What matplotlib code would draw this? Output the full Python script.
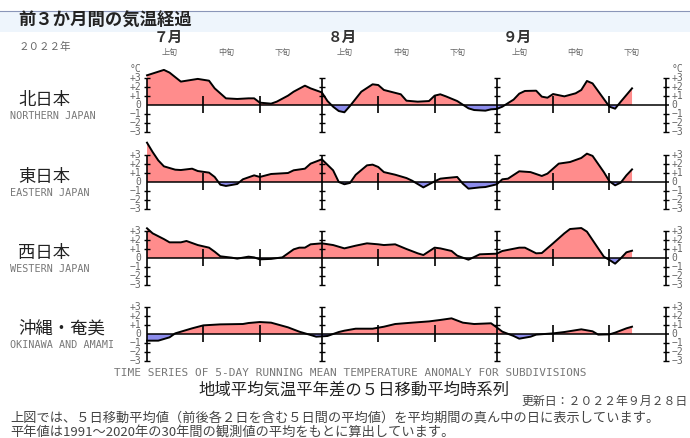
import matplotlib
matplotlib.use("Agg")
import matplotlib.pyplot as plt
import numpy as np

plt.rcParams['font.family'] = ['Noto Sans CJK JP', 'DejaVu Sans']

# day index from 1 July 2022 (0) ; 86 = 25 Sep
north_days = [0, 1, 3, 4, 6, 8, 9, 11, 12, 14, 16, 18, 19, 20, 22, 23, 25, 26, 28, 29,
              31, 32, 33, 34, 35, 36, 38, 40, 41, 42, 45, 46, 48, 50, 51, 52, 53, 55, 57,
              58, 60, 61, 62, 63, 65, 66, 67, 69, 70, 71, 72, 74, 76, 77, 78, 79, 81, 82,
              83, 84, 86]
north_vals = [3.3, 3.5, 3.9, 3.6, 2.6, 2.8, 2.9, 2.7, 1.85, 0.74, 0.67, 0.74, 0.74, 0.26,
              0.15, 0.37, 1.04, 1.48, 2.15, 1.85, 1.4, 0.44, -0.19, -0.67, -0.81, -0.1,
              1.48, 2.3, 2.22, 1.67, 1.19, 0.48, 0.37, 0.44, 1.04, 1.19, 0.96, 0.44, -0.37,
              -0.56, -0.63, -0.48, -0.44, -0.19, 0.6, 1.26, 1.56, 1.59, 0.93, 0.81, 1.22,
              0.96, 1.3, 1.67, 2.67, 2.4, 0.67, -0.19, -0.41, 0.37, 1.85]

east_days = [0, 1, 2, 3, 5, 6, 8, 9, 11, 12, 13, 14, 16, 17, 19, 20, 22, 25, 26, 28, 29,
             31, 33, 34, 35, 36, 37, 39, 40, 41, 42, 44, 46, 47, 49, 51, 52, 53, 55, 56,
             57, 59, 60, 62, 63, 64, 66, 68, 70, 71, 73, 75, 77, 78, 79, 81, 82, 83, 84,
             85, 86]
east_vals = [4.37, 3.33, 2.4, 1.74, 1.37, 1.33, 1.48, 1.22, 1.04, 0.56, -0.3, -0.44, -0.22,
             0.3, 0.74, 0.56, 0.89, 1.0, 1.3, 1.48, 2.04, 2.52, 1.3, 0.0, -0.25, -0.1, 0.8,
             1.85, 1.93, 1.67, 1.1, 0.81, 0.44, 0.15, -0.6, 0.07, 0.37, 0.44, 0.56, -0.19,
             -0.74, -0.6, -0.56, -0.26, 0.3, 0.37, 1.19, 1.1, 0.67, 0.93, 2.04, 2.22, 2.67,
             3.15, 2.9, 1.1, 0.07, -0.37, -0.07, 0.74, 1.4]

west_days = [0, 1, 3, 4, 6, 7, 9, 11, 12, 13, 15, 16, 18, 19, 20, 22, 24, 26, 27, 28, 29,
             31, 33, 35, 37, 39, 41, 42, 44, 46, 48, 49, 51, 52, 54, 55, 57, 58, 59, 62,
             63, 66, 67, 69, 70, 72, 74, 75, 77, 78, 80, 81, 82, 83, 84, 85, 86]
west_vals = [3.3, 2.74, 2.1, 1.74, 1.74, 1.89, 1.44, 1.15, 0.7, 0.19, 0.04, -0.07, 0.15,
             0.07, -0.15, -0.1, 0.07, 0.96, 1.15, 1.15, 1.52, 1.63, 1.44, 1.07, 1.37, 1.63,
             1.52, 1.44, 1.52, 1.0, 0.52, 0.33, 1.15, 1.07, 0.78, 0.26, -0.19, 0.11, 0.41,
             0.48, 0.78, 1.15, 1.15, 0.52, 0.55, 1.63, 2.74, 3.22, 3.33, 2.93, 1.07, 0.15,
             -0.22, -0.63, -0.04, 0.63, 0.81]

oki_days = [0, 2, 4, 5, 8, 10, 13, 17, 18, 20, 22, 25, 27, 29, 30, 32, 34, 35, 37, 40,
            42, 44, 47, 50, 52, 54, 56, 58, 61, 62, 63, 65, 66, 68, 69, 72, 74, 77, 79,
            80, 82, 83, 85, 86]
oki_vals = [-0.74, -0.74, -0.37, 0.07, 0.63, 0.96, 1.07, 1.11, 1.22, 1.33, 1.26, 0.74,
            0.26, -0.11, -0.3, -0.22, 0.22, 0.37, 0.59, 0.59, 0.81, 1.11, 1.26, 1.4, 1.56,
            1.74, 1.26, 1.11, 1.19, 0.74, 0.26, -0.22, -0.52, -0.3, -0.07, 0.07, 0.22,
            0.52, 0.3, -0.07, -0.04, 0.15, 0.63, 0.81]

regions = [
    ("北日本", "NORTHERN JAPAN", north_days, north_vals, 105),
    ("東日本", "EASTERN JAPAN", east_days, east_vals, 182),
    ("西日本", "WESTERN JAPAN", west_days, west_vals, 258),
    ("沖縄・奄美", "OKINAWA AND AMAMI", oki_days, oki_vals, 334),
]

months = ["７月", "８月", "９月"]
month_starts = [0, 31, 62, 92]
dekad_ticks = [10, 20, 41, 51, 72, 82]
dekad_names = ["上旬", "中旬", "下旬"]
ytick_labels = ["+3", "+2", "+1", "0", "−1", "−2", "−3"]

W, H = 690, 438
X0, PXD = 147, 5.64   # pixel of day 0, pixels per day
UNIT = 9.0            # pixels per degree

fig = plt.figure(figsize=(W / 100, H / 100), dpi=100)


def ft(x, y, s, **kw):
    fig.text(x / W, 1 - y / H, s, **kw)


def day_px(d):
    return X0 + d * PXD


# header band
fig.patches.append(plt.Rectangle((0, 1 - 32 / H), 1, 21 / H, transform=fig.transFigure,
                                 facecolor='#eef5fc', edgecolor='none'))
fig.lines.append(plt.Line2D([0, 1], [1 - 11 / H] * 2, transform=fig.transFigure,
                            color='#8a96b8', lw=0.8))
ft(18, 21, "前３か月間の気温経過", fontsize=12.5, weight='bold', va='center', color='#222222')
ft(19, 47, "２０２２年", fontsize=7.6, va='center', color='#666666')

for i, m in enumerate(months):
    ft(day_px(month_starts[i]) + 21, 37, m, fontsize=10.5, weight='bold', ha='center',
       va='center', color='#333333')
    for j, dn in enumerate(dekad_names):
        ft(day_px(month_starts[i] + 10 * j + 4), 52, dn, fontsize=5.8, ha='center',
           va='center', color='#666666')

pos_col = '#ff8c8c'
neg_col = '#8c8cec'
mono = ['DejaVu Sans Mono']

xl = ((100 - X0) / PXD, (690 - X0) / PXD)
for k, (jp, en, days, vals, y0) in enumerate(regions):
    top = y0 - 5 * UNIT
    bot = y0 + 4 * UNIT
    ax = fig.add_axes([100 / W, 1 - bot / H, 590 / W, (bot - top) / H])
    ax.set_xlim(*xl)
    ax.set_ylim(-4, 5)
    ax.axis('off')
    ax.patch.set_alpha(0)
    d = np.array(days, dtype=float)
    v = np.array(vals)
    ax.fill_between(d, v, 0, where=v >= 0, interpolate=True, color=pos_col, lw=0)
    ax.fill_between(d, v, 0, where=v <= 0, interpolate=True, color=neg_col, lw=0)
    ax.plot(d, v, color='black', lw=1.4, solid_joinstyle='round')
    ax.hlines(0, 0, 92.6, color='black', lw=1.1)
    for ms in month_starts:
        ax.vlines(ms, -3, 3, color='black', lw=1.2)
        ax.hlines([-3, -2, -1, 1, 2, 3], ms - 0.55, ms + 0.55, color='black', lw=1.0)
    ax.vlines(dekad_ticks, -0.9, 1.0, color='black', lw=1.2)
    for t, lab in zip(range(3, -4, -1), ytick_labels):
        ax.text(-1.0, t, lab, family=mono, fontsize=7, ha='right', va='center',
                color='#666666')
        ax.text(93.0, t, lab, family=mono, fontsize=7, ha='left', va='center',
                color='#666666')
    if k == 0:
        ax.text(-1.0, 4.0, "°C", family=mono, fontsize=7, ha='right', va='center',
                color='#666666')
        ax.text(93.0, 4.0, "°C", family=mono, fontsize=7, ha='left', va='center',
                color='#666666')
    ft(18, y0 - 5, jp, fontsize=12.5, va='center', color='#222222')
    ft(10, y0 + 11, en, family=mono, fontsize=7.3, va='center', color='#777777')

ft(350, 373, "TIME SERIES OF 5-DAY RUNNING MEAN TEMPERATURE ANOMALY FOR SUBDIVISIONS",
   family=mono, fontsize=8, ha='center', va='center', color='#777777')
ft(354, 390, "地域平均気温平年差の５日移動平均時系列", fontsize=11.8, ha='center',
   va='center', color='#222222')
ft(688, 401, "更新日：２０２２年９月２８日", fontsize=8.6, ha='right', va='center',
   color='#444444')
ft(10, 418, "上図では、５日移動平均値（前後各２日を含む５日間の平均値）を平均期間の真ん中の日に表示しています。",
   fontsize=9.5, va='center', color='#444444')
ft(10, 432, "平年値は1991～2020年の30年間の観測値の平均をもとに算出しています。",
   fontsize=9.5, va='center', color='#444444')

fig.savefig("out.png", dpi=100)
